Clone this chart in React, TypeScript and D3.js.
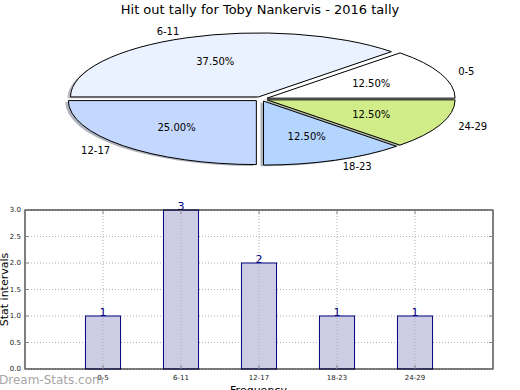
import { useEffect, useRef } from "react";
import * as d3 from "d3";

const TITLE = "Hit out tally for Toby Nankervis - 2016 tally";
const categories = ["0-5", "6-11", "12-17", "18-23", "24-29"];
const tally = [1, 3, 2, 1, 1];
const sliceColors = ["#ffffff", "#eaf2ff", "#c4d8ff", "#b4d5ff", "#d0ed8a"];
const yTicks = [0, 0.5, 1, 1.5, 2, 2.5, 3];

const FONT = "DejaVu Sans, sans-serif";

export default function App() {
  const ref = useRef<SVGSVGElement>(null);

  useEffect(() => {
    if (!ref.current) return;
    const svg = d3.select(ref.current);
    svg.selectAll("*").remove();

    // title
    svg
      .append("text")
      .attr("x", 260)
      .attr("y", 14)
      .attr("text-anchor", "middle")
      .attr("font-family", FONT)
      .attr("font-size", 13)
      .attr("fill", "#000")
      .text(TITLE);

    // ---- pie (elliptical, exploded, shadowed) ----
    const cx = 261;
    const cy = 99;
    const rx = 188;
    const ry = 64;
    const explode = 0.035;
    const total = d3.sum(tally);

    const pie = d3
      .pie<number>()
      .sort(null)
      .startAngle(Math.PI / 2)
      .endAngle(Math.PI / 2 - 2 * Math.PI);
    const arcs = pie(tally);
    const arc = d3.arc<d3.PieArcDatum<number>>().innerRadius(0).outerRadius(1);

    const pg = svg.append("g");
    const centers = arcs.map((a) => {
      const mid = (a.startAngle + a.endAngle) / 2;
      return {
        mid,
        x: cx + explode * rx * Math.sin(mid),
        y: cy - explode * ry * Math.cos(mid),
      };
    });

    // shadows
    arcs.forEach((a, i) => {
      const c = centers[i];
      pg.append("path")
        .attr("d", arc(a))
        .attr("transform", `translate(${c.x - 3},${c.y + 1.3}) scale(${rx},${ry})`)
        .attr("fill", d3.color(sliceColors[i])!.darker(2).formatHex())
        .attr("fill-opacity", 0.5)
        .attr("stroke", "none");
    });

    arcs.forEach((a, i) => {
      const c = centers[i];
      pg.append("path")
        .attr("d", arc(a))
        .attr("transform", `translate(${c.x},${c.y}) scale(${rx},${ry})`)
        .attr("fill", sliceColors[i])
        .attr("stroke", "#000")
        .attr("stroke-width", 1)
        .attr("vector-effect", "non-scaling-stroke");

      const sx = Math.sin(c.mid);
      const cyv = Math.cos(c.mid);
      pg.append("text")
        .attr("x", c.x + 1.1 * rx * sx)
        .attr("y", c.y - 1.1 * ry * cyv)
        .attr("text-anchor", sx > 0 ? "start" : "end")
        .attr("dominant-baseline", "central")
        .attr("font-family", FONT)
        .attr("font-size", 10)
        .attr("fill", "#000")
        .text(categories[i]);

      pg.append("text")
        .attr("x", c.x + 0.6 * rx * sx)
        .attr("y", c.y - 0.6 * ry * cyv)
        .attr("text-anchor", "middle")
        .attr("dominant-baseline", "central")
        .attr("font-family", FONT)
        .attr("font-size", 10)
        .attr("fill", "#000")
        .text(`${((tally[i] / total) * 100).toFixed(2)}%`);
    });

    // ---- bar chart ----
    const L = 25;
    const R = 493;
    const T = 210;
    const B = 369;
    const x = d3.scaleLinear().domain([0, categories.length + 1]).range([L, R]);
    const y = d3.scaleLinear().domain([0, 3]).range([B, T]);
    const bw = 0.45;

    const bg = svg.append("g");

    // grid
    yTicks.forEach((t) => {
      bg.append("line")
        .attr("x1", L)
        .attr("x2", R)
        .attr("y1", y(t))
        .attr("y2", y(t))
        .attr("stroke", "#b0b0b0")
        .attr("stroke-width", 1)
        .attr("stroke-dasharray", "1,2");
    });

    // bars
    categories.forEach((c, i) => {
      bg.append("rect")
        .attr("x", x(i + 1 - bw / 2))
        .attr("y", y(tally[i]))
        .attr("width", x(bw) - x(0))
        .attr("height", y(0) - y(tally[i]))
        .attr("fill", "#ccccE5")
        .attr("stroke", "#000080")
        .attr("stroke-width", 1);
    });

    // vertical grid over bars
    categories.forEach((c, i) => {
      bg.append("line")
        .attr("x1", x(i + 1))
        .attr("x2", x(i + 1))
        .attr("y1", T)
        .attr("y2", B)
        .attr("stroke", "#b0b0b0")
        .attr("stroke-width", 1)
        .attr("stroke-dasharray", "1,2");
    });

    // value labels
    categories.forEach((c, i) => {
      bg.append("text")
        .attr("x", x(i + 1))
        .attr("y", y(tally[i]))
        .attr("text-anchor", "middle")
        .attr("font-family", FONT)
        .attr("font-size", 11)
        .attr("fill", "#000080")
        .text(tally[i]);
    });

    // frame
    bg.append("rect")
      .attr("x", L)
      .attr("y", T)
      .attr("width", R - L)
      .attr("height", B - T)
      .attr("fill", "none")
      .attr("stroke", "#000")
      .attr("stroke-width", 1);

    // ticks
    yTicks.forEach((t) => {
      bg.append("line")
        .attr("x1", L)
        .attr("x2", L + 4)
        .attr("y1", y(t))
        .attr("y2", y(t))
        .attr("stroke", "#888");
      bg.append("line")
        .attr("x1", R - 4)
        .attr("x2", R)
        .attr("y1", y(t))
        .attr("y2", y(t))
        .attr("stroke", "#888");
      bg.append("text")
        .attr("x", L - 4)
        .attr("y", y(t))
        .attr("text-anchor", "end")
        .attr("dominant-baseline", "central")
        .attr("font-family", FONT)
        .attr("font-size", 7)
        .attr("fill", "#222")
        .text(t.toFixed(1));
    });
    categories.forEach((c, i) => {
      bg.append("line")
        .attr("x1", x(i + 1))
        .attr("x2", x(i + 1))
        .attr("y1", B)
        .attr("y2", B - 4)
        .attr("stroke", "#888");
      bg.append("line")
        .attr("x1", x(i + 1))
        .attr("x2", x(i + 1))
        .attr("y1", T)
        .attr("y2", T + 4)
        .attr("stroke", "#888");
      bg.append("text")
        .attr("x", x(i + 1))
        .attr("y", B + 11)
        .attr("text-anchor", "middle")
        .attr("font-family", FONT)
        .attr("font-size", 7)
        .attr("fill", "#222")
        .text(c);
    });

    // axis labels
    svg
      .append("text")
      .attr("transform", `translate(8,${(T + B) / 2}) rotate(-90)`)
      .attr("text-anchor", "middle")
      .attr("font-family", FONT)
      .attr("font-size", 11)
      .attr("fill", "#000")
      .text("Stat intervals");
    svg
      .append("text")
      .attr("x", (L + R) / 2 - 0.5)
      .attr("y", 394)
      .attr("text-anchor", "middle")
      .attr("font-family", FONT)
      .attr("font-size", 11)
      .attr("fill", "#000")
      .text("Frequency");

    // watermark
    svg
      .append("text")
      .attr("x", -1)
      .attr("y", 384)
      .attr("font-family", FONT)
      .attr("font-size", 12)
      .attr("fill", "#999")
      .attr("fill-opacity", 0.9)
      .text("Dream-Stats.com");
  }, []);

  return (
    <svg
      ref={ref}
      width={520}
      height={390}
      style={{ position: "fixed", left: 0, top: 0, background: "#fff" }}
    />
  );
}
